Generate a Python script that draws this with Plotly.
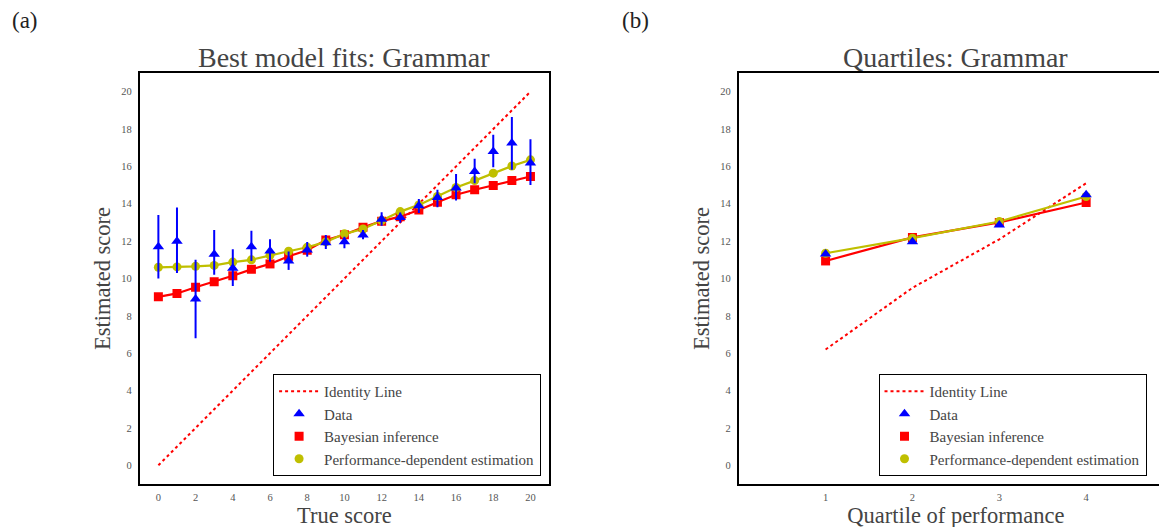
import plotly.graph_objects as go

# ---- data (panel a) ----
true_score = list(range(21))
data_mean = [11.7, 12.0, 8.9, 11.3, 10.55, 11.7, 11.47, 10.94, 11.53, 11.92, 11.97,
             12.33, 13.17, 13.26, 13.89, 14.33, 14.84, 15.73, 16.8, 17.25, 16.18]
data_hi = [13.4, 13.8, 11.0, 12.6, 11.57, 12.55, 12.1, 11.44, 11.96, 12.33, 12.24,
           12.6, 13.55, 13.53, 14.25, 14.75, 15.59, 16.41, 17.69, 18.64, 17.46]
data_lo = [10.0, 10.3, 6.8, 10.2, 9.6, 10.94, 10.9, 10.46, 11.17, 11.58, 11.62,
           12.1, 12.83, 12.99, 13.5, 13.82, 14.17, 15.1, 15.96, 15.82, 15.01]
bayes = [9.02, 9.2, 9.53, 9.83, 10.15, 10.49, 10.78, 11.19, 11.51, 12.06, 12.34,
         12.74, 13.07, 13.31, 13.67, 14.08, 14.48, 14.75, 14.98, 15.25, 15.46]
perf = [10.6, 10.62, 10.65, 10.7, 10.88, 11.0, 11.24, 11.46, 11.67, 11.96, 12.39,
        12.65, 13.1, 13.58, 13.94, 14.39, 14.87, 15.24, 15.64, 16.02, 16.35]

# ---- data (panel b) ----
quartiles = [1, 2, 3, 4]
q_identity = [6.2, 9.5, 12.1, 15.1]
q_data = [11.31, 11.97, 12.87, 14.48]
q_bayes = [10.94, 12.2, 13.0, 14.07]
q_perf = [11.35, 12.16, 13.05, 14.39]

x_ticks_a = list(range(0, 21, 2))
y_ticks = list(range(0, 21, 2))

BLUE = "#0000ff"
RED = "#ff0000"
YEL = "#bfbf00"
FONT = "Liberation Serif"
TXT = "#444444"

W, H = 1167, 527

fig = go.Figure()

def add_panel(xs, ident, dmean, bay, prf, xa, ya, leg, err=None):
    fig.add_trace(go.Scatter(x=xs, y=ident, mode="lines", name="Identity Line",
                             line=dict(color=RED, width=2, dash="dot"),
                             xaxis=xa, yaxis=ya, legend=leg, legendrank=1))
    fig.add_trace(go.Scatter(x=xs, y=bay, mode="lines", showlegend=False,
                             line=dict(color=RED, width=2.2), xaxis=xa, yaxis=ya))
    fig.add_trace(go.Scatter(x=xs, y=prf, mode="lines", showlegend=False,
                             line=dict(color=YEL, width=2.2), xaxis=xa, yaxis=ya))
    fig.add_trace(go.Scatter(x=xs, y=bay, mode="markers", name="Bayesian inference",
                             marker=dict(symbol="square", color=RED, size=9),
                             xaxis=xa, yaxis=ya, legend=leg, legendrank=3))
    fig.add_trace(go.Scatter(x=xs, y=prf, mode="markers",
                             name="Performance-dependent estimation",
                             marker=dict(symbol="circle", color=YEL, size=9),
                             xaxis=xa, yaxis=ya, legend=leg, legendrank=4))
    dtrace = dict(x=xs, y=dmean, mode="markers", name="Data",
                  marker=dict(symbol="triangle-up", color=BLUE, size=10),
                  xaxis=xa, yaxis=ya, legend=leg, legendrank=2)
    if err is not None:
        hi, lo = err
        dtrace["error_y"] = dict(type="data", symmetric=False,
                                 array=[h - m for h, m in zip(hi, dmean)],
                                 arrayminus=[m - l for m, l in zip(dmean, lo)],
                                 color=BLUE, thickness=2, width=0)
    fig.add_trace(go.Scatter(**dtrace))

add_panel(true_score, true_score, data_mean, bayes, perf, "x", "y", "legend",
          err=(data_hi, data_lo))
add_panel(quartiles, q_identity, q_data, q_bayes, q_perf, "x2", "y2", "legend2")

axis_common = dict(showgrid=False, zeroline=False, ticks="", showline=True,
                   linecolor="black", linewidth=2, mirror=True,
                   tickfont=dict(family=FONT, size=10.5, color="#555555"),
                   title_font=dict(family=FONT, size=22.5, color=TXT))

# page body has an 8px margin: positions below are screen positions minus 8
y_dom = [51 / H, 462 / H]
legfont = dict(family=FONT, size=15, color=TXT)
fig.update_layout(
    width=W, height=H,
    margin=dict(l=0, r=0, t=0, b=0),
    plot_bgcolor="white", paper_bgcolor="white",
    font=dict(family=FONT, color=TXT),
    xaxis=dict(domain=[132 / W, 542 / W], range=[-1, 21], tickvals=x_ticks_a,
               anchor="y", ticklabelstandoff=2,
               title=dict(text="True score", standoff=2), **axis_common),
    yaxis=dict(domain=y_dom, range=[-1, 21], tickvals=y_ticks,
               anchor="x", ticklabelstandoff=4,
               title=dict(text="Estimated score", standoff=4), **axis_common),
    xaxis2=dict(domain=[732 / W, 1.0], range=[0, 5], tickvals=quartiles,
                anchor="y2", ticklabelstandoff=2,
                title=dict(text="Quartile of performance", standoff=2), **axis_common),
    yaxis2=dict(domain=y_dom, range=[-1, 21], tickvals=y_ticks,
                anchor="x2", ticklabelstandoff=4,
                title=dict(text="Estimated score", standoff=4), **axis_common),
    legend=dict(x=534 / W, y=59 / H, xanchor="right", yanchor="bottom",
                bordercolor="black", borderwidth=1, bgcolor="white",
                font=legfont, tracegroupgap=0, itemwidth=40),
    legend2=dict(x=872 / W, y=59 / H, xanchor="left", yanchor="bottom",
                 bordercolor="black", borderwidth=1, bgcolor="white",
                 font=legfont, tracegroupgap=0, itemwidth=40),
    annotations=[
        dict(text="Best model fits: Grammar", x=337 / W, y=(H - 50) / H,
             xref="paper", yref="paper", showarrow=False, xanchor="center",
             yanchor="middle", font=dict(family=FONT, size=28, color=TXT)),
        dict(text="Quartiles: Grammar", x=949 / W, y=(H - 50) / H,
             xref="paper", yref="paper", showarrow=False, xanchor="center",
             yanchor="middle", font=dict(family=FONT, size=28, color=TXT)),
        dict(text="(a)", x=17 / W, y=(H - 12) / H, xref="paper", yref="paper",
             showarrow=False, xanchor="center", yanchor="middle",
             font=dict(family=FONT, size=23, color="#222222")),
        dict(text="(b)", x=629 / W, y=(H - 12) / H, xref="paper", yref="paper",
             showarrow=False, xanchor="center", yanchor="middle",
             font=dict(family=FONT, size=23, color="#222222")),
    ],
)

fig.write_html("out.html")
